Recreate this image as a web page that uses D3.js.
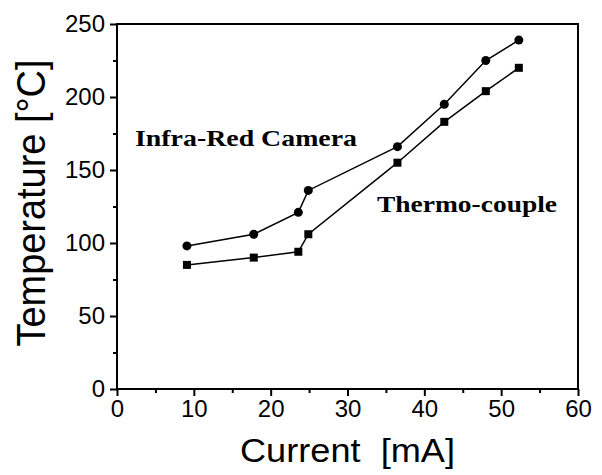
<!DOCTYPE html>
<html>
<head>
<meta charset="utf-8">
<script src="https://cdn.jsdelivr.net/npm/d3@7"></script>
<style>
  body { margin: 0; background: #fff; }
  svg { display: block; }
  .tick text { font-family: "Liberation Sans", Arial, sans-serif; font-size: 24px; fill: #000; }
</style>
</head>
<body>
<div id="chart"></div>
<script>
// Current [mA] vs temperature
var current_ir = [9.1, 17.8, 23.6, 24.9, 36.5, 42.6, 48.0, 52.3];
var temp_ir    = [98, 106, 121, 136, 166, 195, 225, 239];
var current_tc = [9.1, 17.8, 23.6, 24.9, 36.5, 42.6, 48.0, 52.3];
var temp_tc    = [85, 90, 94, 106, 155, 183, 204, 220];
var xTicks = [0, 10, 20, 30, 40, 50, 60];
var yTicks = [0, 50, 100, 150, 200, 250];

const width = 602, height = 475;
const mLeft = 117, mTop = 24, mRight = 578, mBottom = 389;

var svg = d3.select("#chart").append("svg")
  .attr("width", width)
  .attr("height", height);

var x = d3.scaleLinear().domain([0, 60]).range([mLeft, mRight]);
var y = d3.scaleLinear().domain([0, 250]).range([mBottom, mTop]);

// minor ticks first (no labels)
svg.append("g")
  .attr("transform", "translate(0," + mBottom + ")")
  .call(d3.axisBottom(x).tickValues(d3.range(5, 60, 10)).tickSize(4).tickSizeOuter(0).tickFormat(""))
  .call(g => g.select(".domain").remove())
  .selectAll("line").attr("stroke", "#000").attr("stroke-width", 2);
svg.append("g")
  .attr("transform", "translate(" + mLeft + ",0)")
  .call(d3.axisLeft(y).tickValues(d3.range(25, 250, 50)).tickSize(4).tickSizeOuter(0).tickFormat(""))
  .call(g => g.select(".domain").remove())
  .selectAll("line").attr("stroke", "#000").attr("stroke-width", 2);

// major axes
var xg = svg.append("g")
  .attr("transform", "translate(0," + mBottom + ")")
  .call(d3.axisBottom(x).tickValues(xTicks).tickSize(7).tickSizeOuter(0).tickPadding(4));
xg.select(".domain").remove();
xg.selectAll("line").attr("stroke", "#000").attr("stroke-width", 2);

var yg = svg.append("g")
  .attr("transform", "translate(" + mLeft + ",0)")
  .call(d3.axisLeft(y).tickValues(yTicks).tickSize(7).tickSizeOuter(0).tickPadding(5));
yg.select(".domain").remove();
yg.selectAll("line").attr("stroke", "#000").attr("stroke-width", 2);

// frame
svg.append("rect")
  .attr("x", mLeft).attr("y", mTop)
  .attr("width", mRight - mLeft).attr("height", mBottom - mTop)
  .attr("fill", "none").attr("stroke", "#000").attr("stroke-width", 2);

// series
var line = d3.line().x(d => x(d[0])).y(d => y(d[1]));
var ir = d3.zip(current_ir, temp_ir);
var tc = d3.zip(current_tc, temp_tc);

svg.append("path").datum(ir).attr("d", line)
  .attr("fill", "none").attr("stroke", "#000").attr("stroke-width", 1.5);
svg.append("path").datum(tc).attr("d", line)
  .attr("fill", "none").attr("stroke", "#000").attr("stroke-width", 1.5);

svg.selectAll("circle.ir").data(ir).enter().append("circle")
  .attr("class", "ir")
  .attr("cx", d => x(d[0])).attr("cy", d => y(d[1]))
  .attr("r", 4.5).attr("fill", "#000");

svg.selectAll("rect.tc").data(tc).enter().append("rect")
  .attr("class", "tc")
  .attr("x", d => x(d[0]) - 4).attr("y", d => y(d[1]) - 4)
  .attr("width", 8).attr("height", 8).attr("fill", "#000");

// labels in the plot
svg.append("text")
  .attr("x", 135).attr("y", 146)
  .attr("textLength", 222).attr("lengthAdjust", "spacingAndGlyphs")
  .style("font-family", "'Liberation Serif', 'Times New Roman', serif")
  .style("font-weight", "bold").style("font-size", "24px")
  .text("Infra-Red Camera");

svg.append("text")
  .attr("x", 377).attr("y", 212)
  .attr("textLength", 180).attr("lengthAdjust", "spacingAndGlyphs")
  .style("font-family", "'Liberation Serif', 'Times New Roman', serif")
  .style("font-weight", "bold").style("font-size", "24px")
  .text("Thermo-couple");

// axis titles
svg.append("text")
  .attr("x", 240).attr("y", 462)
  .attr("textLength", 215).attr("lengthAdjust", "spacingAndGlyphs")
  .style("white-space", "pre")
  .style("font-family", "'Liberation Sans', Arial, sans-serif")
  .style("font-size", "33px")
  .text("Current  [mA]");

svg.append("text")
  .attr("transform", "translate(45,203) rotate(-90)")
  .attr("text-anchor", "middle")
  .attr("textLength", 287).attr("lengthAdjust", "spacingAndGlyphs")
  .style("font-family", "'Liberation Sans', Arial, sans-serif")
  .style("font-size", "41px")
  .text("Temperature [\u00B0C]");
</script>
</body>
</html>
